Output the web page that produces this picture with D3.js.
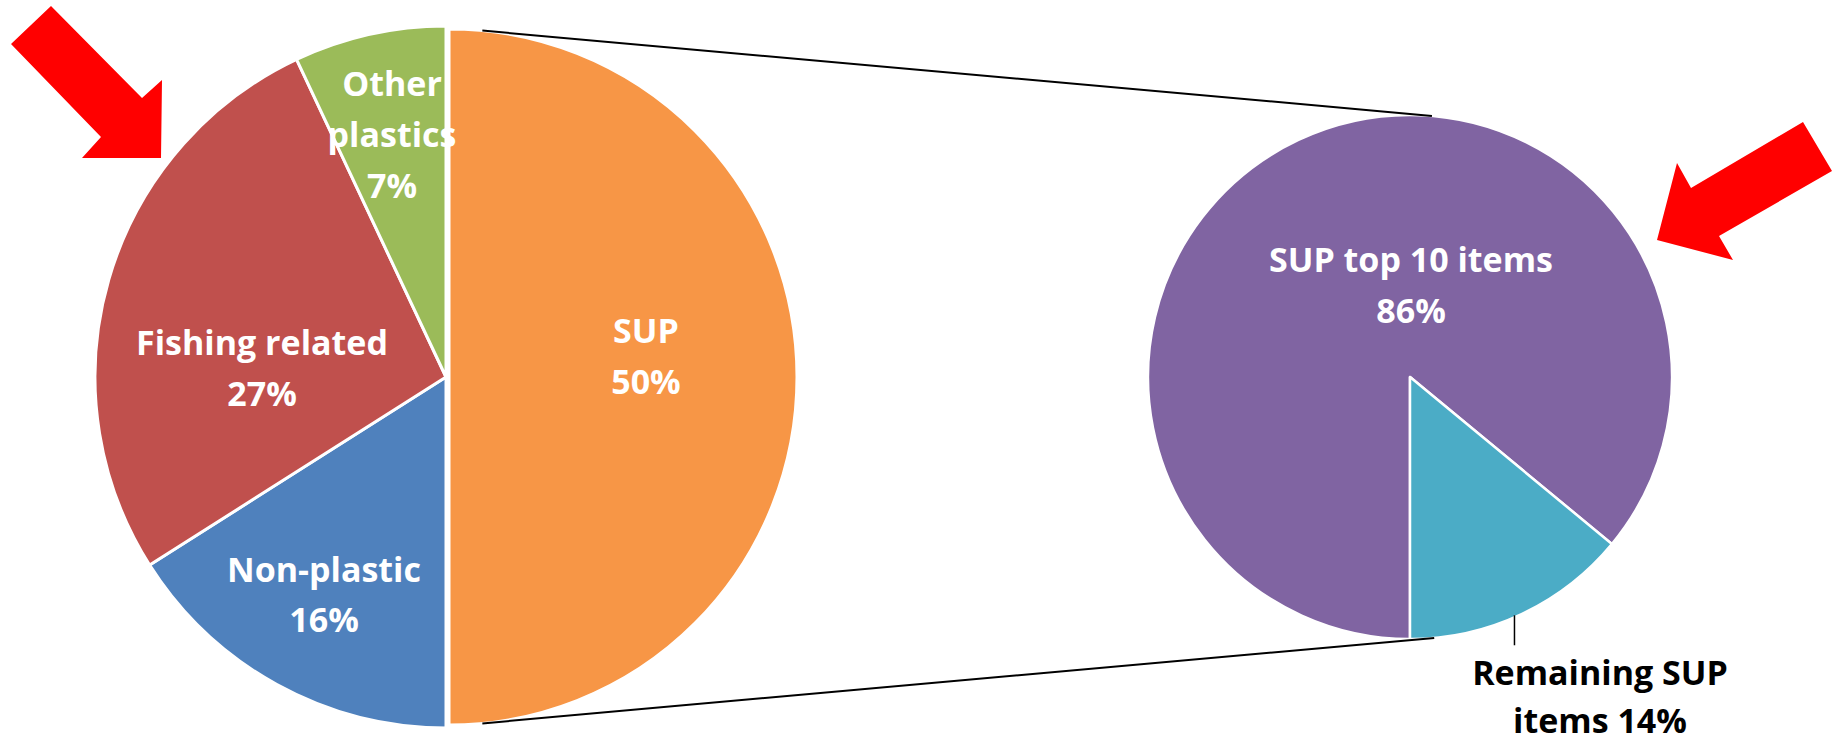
<!DOCTYPE html>
<html>
<head>
<meta charset="utf-8">
<script src="https://cdn.jsdelivr.net/npm/d3@7"></script>
<style>
  html, body { margin: 0; padding: 0; background: #fff; }
  svg { display: block; }
  text { font-family: "Open Sans", Lato, sans-serif; font-weight: bold; }
</style>
</head>
<body>
<svg id="chart"></svg>
<script>
// main pie
const mainCategories = ['SUP', 'Non-plastic', 'Fishing related', 'Other plastics'];
const mainValues = [50, 16, 27, 7];
const mainLabels = [['SUP', '50%'], ['Non-plastic', '16%'], ['Fishing related', '27%'], ['Other', 'plastics', '7%']];
// secondary pie (split of SUP)
const subCategories = ['SUP top 10 items', 'Remaining SUP items'];
const subValues = [86, 14];
const subLabels = [['SUP top 10 items', '86%'], ['Remaining SUP', 'items 14%']];

function renderPieOfPie() {
  const width = 1837, height = 744;
  const svg = d3.select('#chart').attr('width', width).attr('height', height);

  const mainColors = ['#F79646', '#4F81BD', '#C0504D', '#9BBB59'];
  const subColors = ['#8064A2', '#4BACC6'];

  const main = {cx: 446, cy: 377, r: 351};
  const sub = {cx: 1410, cy: 377, r: 262};

  // label anchors, relative to the pie centre, and line spacing
  const mainLabelPos = [[200, -21], [-122, 218], [-184, -9], [-54, -242]];
  const subLabelPos = [[1, -92], [190, 320]];
  const mainLineH = [51, 50, 51, 51];
  const subLineH = [51, 48];

  const rad = d => d * Math.PI / 180;

  // main pie
  const mainPie = d3.pie().sort(null).value(d => d)(mainValues);
  const gMain = svg.append('g').attr('transform', `translate(${main.cx},${main.cy})`);
  const arcMain = d3.arc().innerRadius(0).outerRadius(main.r);
  const arcSplit = d3.arc().innerRadius(0).outerRadius(main.r - 3);

  gMain.selectAll('path')
    .data(mainPie)
    .enter()
    .append('path')
    .attr('d', (d, i) => i === 0 ? arcSplit(d) : arcMain(d))
    .attr('transform', (d, i) => i === 0 ? 'translate(3,0)' : null)
    .attr('fill', (d, i) => mainColors[i])
    .attr('stroke', '#fff')
    .attr('stroke-width', 3)
    .attr('stroke-linejoin', 'round');

  // secondary pie, starting at 6 o'clock
  const subPie = d3.pie().sort(null).value(d => d)
    .startAngle(Math.PI).endAngle(3 * Math.PI)(subValues);
  const gSub = svg.append('g').attr('transform', `translate(${sub.cx},${sub.cy})`);
  const arcSub = d3.arc().innerRadius(0).outerRadius(sub.r);

  gSub.selectAll('path')
    .data(subPie)
    .enter()
    .append('path')
    .attr('d', arcSub)
    .attr('fill', (d, i) => subColors[i])
    .attr('stroke', '#fff')
    .attr('stroke-width', 2.5)
    .attr('stroke-linejoin', 'round');

  // connector lines between the SUP slice and the secondary pie
  const connectors = [[rad(5.5), rad(4.8)], [rad(174.5), rad(174.7)]];
  connectors.forEach(([a1, a2]) => {
    const p1 = d3.pointRadial(a1, main.r - 3);
    const p2 = d3.pointRadial(a2, sub.r);
    svg.append('line')
      .attr('x1', main.cx + 3 + p1[0]).attr('y1', main.cy + p1[1])
      .attr('x2', sub.cx + p2[0]).attr('y2', sub.cy + p2[1])
      .attr('stroke', '#000')
      .attr('stroke-width', 2);
  });

  // labels
  function addLabel(g, lines, pos, lineH, color) {
    const t = g.append('text')
      .attr('text-anchor', 'middle')
      .attr('fill', color)
      .attr('font-size', 34);
    const y0 = pos[1] - (lines.length - 1) * lineH / 2;
    lines.forEach((s, k) => {
      t.append('tspan')
        .attr('x', pos[0])
        .attr('y', y0 + k * lineH)
        .attr('dy', '0.36em')
        .text(s);
    });
  }
  mainLabels.forEach((lines, i) => addLabel(gMain, lines, mainLabelPos[i], mainLineH[i], '#fff'));
  addLabel(gSub, subLabels[0], subLabelPos[0], subLineH[0], '#fff');
  addLabel(gSub, subLabels[1], subLabelPos[1], subLineH[1], '#000');

  // leader line for the outside label
  const lp = d3.pointRadial(rad(156.5), sub.r);
  gSub.append('line')
    .attr('x1', lp[0]).attr('y1', lp[1] - 2)
    .attr('x2', lp[0]).attr('y2', lp[1] + 28)
    .attr('stroke', '#000')
    .attr('stroke-width', 1.5);

  // red annotation arrows
  const arrows = [
    [[11, 44], [51, 6], [142, 98], [162, 80], [161, 158], [82, 158], [101, 137]],
    [[1803, 122], [1832, 171], [1719, 236], [1733, 260], [1657, 240], [1677, 163], [1691, 188]]
  ];
  svg.selectAll('polygon.arrow')
    .data(arrows)
    .enter()
    .append('polygon')
    .attr('class', 'arrow')
    .attr('points', d => d.map(p => p.join(',')).join(' '))
    .attr('fill', '#FF0000');
}

renderPieOfPie();
</script>
</body>
</html>
